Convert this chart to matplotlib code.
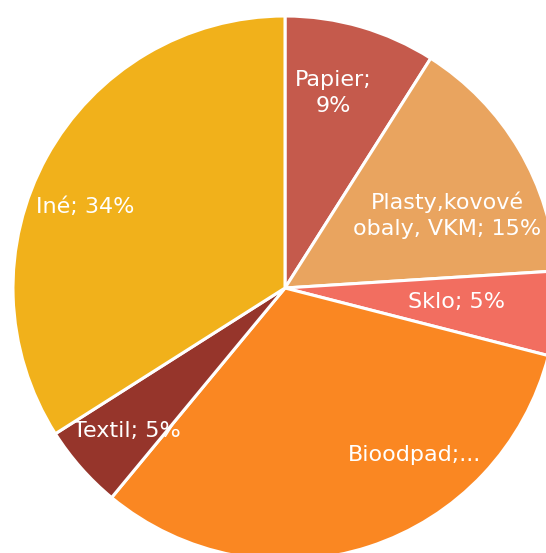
import matplotlib
matplotlib.use("Agg")
import matplotlib.pyplot as plt

# Podiel zložiek odpadu (%)
kategorie = ["Papier", "Plasty,kovové obaly, VKM", "Sklo", "Bioodpad", "Textil", "Iné"]
hodnoty = [9, 15, 5, 32, 5, 34]
popisky = ["Papier;\n9%", "Plasty,kovové\nobaly, VKM; 15%", "Sklo; 5%",
           "Bioodpad;...", "Textil; 5%", "Iné; 34%"]
farby = ["#C55A4C", "#E9A45F", "#F26E60", "#FA8722", "#96352B", "#F1B11B"]

# pozície popisov v pixeloch obrázka (x, y zhora)
pozicie_px = [(333, 93), (447, 215), (457, 302), (415, 455), (127, 431), (85, 207)]

W, H = 546, 553
cx, cy, r = 285, 288, 272

fig = plt.figure(figsize=(W / 100, H / 100), dpi=100)
ax = fig.add_axes([0, 0, 1, 1])

ax.pie(hodnoty, colors=farby, startangle=90, counterclock=False, radius=1,
       wedgeprops=dict(edgecolor="white", linewidth=2.2))

for txt, (px, py) in zip(popisky, pozicie_px):
    ax.text((px - cx) / r, (cy - py) / r, txt, ha="center", va="center",
            color="white", fontsize=16, family=["DejaVu Sans"],
            linespacing=1.35)

ax.set_xlim(-cx / r, (W - cx) / r)
ax.set_ylim(-(H - cy) / r, cy / r)
ax.set_aspect("equal")
ax.axis("off")

fig.savefig("out.png", dpi=100)
